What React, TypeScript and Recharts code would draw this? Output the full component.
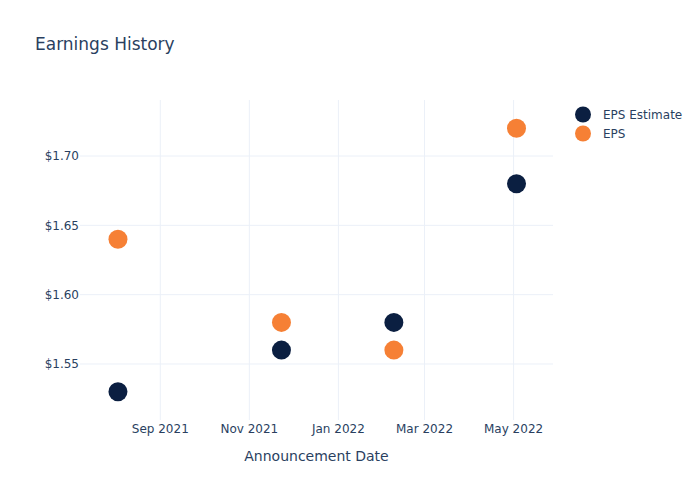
import {
  ScatterChart,
  Scatter,
  XAxis,
  YAxis,
  ReferenceLine,
} from "recharts";

const announcementDates = ["2021-08-03", "2021-11-23", "2022-02-08", "2022-05-03"];
const epsEstimate = [1.53, 1.56, 1.58, 1.68];
const epsActual = [1.64, 1.58, 1.56, 1.72];
const xTickDates = ["2021-09-01", "2021-11-01", "2022-01-01", "2022-03-01", "2022-05-01"];
const yTicks = [1.55, 1.6, 1.65, 1.7];

const MONTHS = ["Jan", "Feb", "Mar", "Apr", "May", "Jun", "Jul", "Aug", "Sep", "Oct", "Nov", "Dec"];
const toTs = (d: string) => Date.parse(d + "T00:00:00Z");

const estimateData = announcementDates.map((d, i) => ({ x: toTs(d), y: epsEstimate[i] }));
const epsData = announcementDates.map((d, i) => ({ x: toTs(d), y: epsActual[i] }));
const xTicks = xTickDates.map(toTs);

const NAVY = "#0b1f41";
const ORANGE = "#f68035";
const TEXT = "#2a3f5f";
const GRID = "#ebf0f8";
const FONT = "'DejaVu Sans', Verdana, sans-serif";

const fmtDate = (v: number) => {
  const d = new Date(v);
  return `${MONTHS[d.getUTCMonth()]} ${d.getUTCFullYear()}`;
};

const Dot = (color: string) => (props: any) => (
  <circle cx={props.cx} cy={props.cy} r={9.5} fill={color} />
);

const legendItems = [
  { name: "EPS Estimate", color: NAVY },
  { name: "EPS", color: ORANGE },
];

export default function App() {
  return (
    <div style={{ position: "absolute", left: 0, top: 0, width: 700, height: 500, background: "#fff" }}>
      <div
        style={{
          position: "absolute",
          left: 35,
          top: 34,
          fontFamily: FONT,
          fontSize: 17,
          color: TEXT,
        }}
      >
        Earnings History
      </div>
      <div
        style={{
          position: "absolute",
          left: 575,
          top: 105,
          fontFamily: FONT,
          fontSize: 12,
          color: TEXT,
        }}
      >
        {legendItems.map((it) => (
          <div key={it.name} style={{ display: "flex", alignItems: "center", height: 19 }}>
            <svg width={20} height={19}>
              <circle cx={8} cy={9.5} r={8} fill={it.color} />
            </svg>
            <span style={{ marginLeft: 8 }}>{it.name}</span>
          </div>
        ))}
      </div>
      <ScatterChart
        width={700}
        height={500}
        margin={{ top: 100, right: 147, bottom: 0, left: 0 }}
      >
        {xTicks.map((t) => (
          <ReferenceLine key={t} x={t} stroke={GRID} strokeWidth={1} />
        ))}
        {yTicks.map((t) => (
          <ReferenceLine key={t} y={t} stroke={GRID} strokeWidth={1} />
        ))}
        <XAxis
          type="number"
          dataKey="x"
          domain={[toTs("2021-07-08"), toTs("2022-05-28")]}
          ticks={xTicks}
          tickFormatter={fmtDate}
          axisLine={false}
          tickLine={false}
          tickSize={0}
          tickMargin={4}
          height={80}
          allowDataOverflow
          tick={{ fill: TEXT, fontSize: 12, fontFamily: FONT }}
          label={{
            value: "Announcement Date",
            position: "insideTop",
            offset: 31,
            fill: TEXT,
            fontSize: 14,
            fontFamily: FONT,
          }}
        />
        <YAxis
          type="number"
          dataKey="y"
          domain={[1.5096, 1.7404]}
          ticks={yTicks}
          tickFormatter={(v: number) => `$${v.toFixed(2)}`}
          axisLine={false}
          tickLine={false}
          tickSize={0}
          tickMargin={1}
          width={80}
          allowDataOverflow
          tick={{ fill: TEXT, fontSize: 12, fontFamily: FONT }}
        />
        <Scatter
          name="EPS Estimate"
          data={estimateData}
          fill={NAVY}
          shape={Dot(NAVY)}
          isAnimationActive={false}
        />
        <Scatter
          name="EPS"
          data={epsData}
          fill={ORANGE}
          shape={Dot(ORANGE)}
          isAnimationActive={false}
        />
      </ScatterChart>
    </div>
  );
}
